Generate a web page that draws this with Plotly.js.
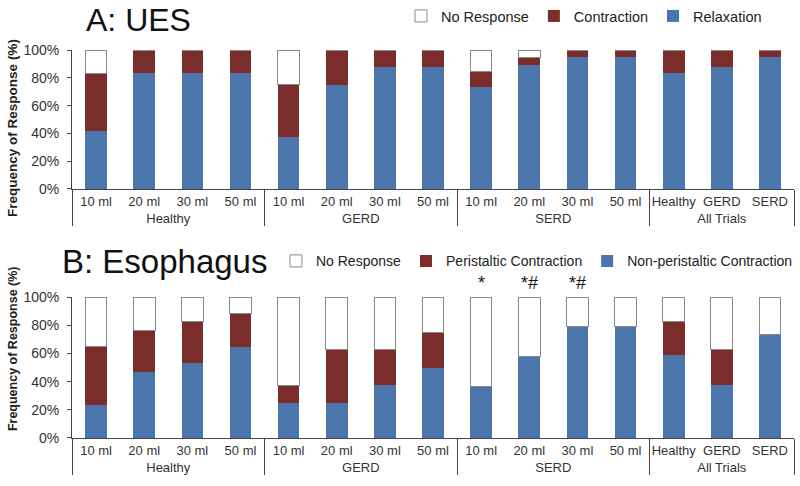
<!DOCTYPE html>
<html>
<head>
<meta charset="utf-8">
<script src="https://cdn.plot.ly/plotly-3.0.1.min.js"></script>
<style>html,body{margin:0;padding:0;background:#fff;}#chart{width:800px;height:486px;}</style>
</head>
<body>
<div id="chart"></div>
<script>
// Category levels
var groups = ['Healthy','Healthy','Healthy','Healthy','GERD','GERD','GERD','GERD','SERD','SERD','SERD','SERD','All Trials','All Trials','All Trials'];
var subs = ['10 ml','20 ml','30 ml','50 ml','10 ml','20 ml','30 ml','50 ml','10 ml','20 ml','30 ml','50 ml','Healthy','GERD','SERD'];

// Y tick values / labels
var yTickVals = [0, 20, 40, 60, 80, 100];
var yTickText = ['0%', '20%', '40%', '60%', '80%', '100%'];

// Panel A: UES (%)
var uesRelaxation  = [41.7, 83.3, 83.3, 83.3, 37.5, 75.0, 87.5, 87.5, 73.7, 89.5, 94.7, 94.7, 83.3, 87.5, 94.7];
var uesContraction = [41.6, 16.7, 16.7, 16.7, 37.5, 25.0, 12.5, 12.5, 10.5,  5.2,  5.3,  5.3, 16.7, 12.5,  5.3];
var uesNoResponse  = [16.7,  0,    0,    0,   25.0,  0,    0,    0,   15.8,  5.3,  0,    0,    0,    0,    0  ];

// Panel B: Esophagus (%)
var esoNonPeristaltic = [23.5, 47.1, 52.9, 64.7, 25.0, 25.0, 37.5, 50.0, 36.8, 57.9, 78.9, 78.9, 58.6, 37.5, 73.7];
var esoPeristaltic    = [41.2, 29.4, 29.5, 23.5, 12.5, 37.5, 25.0, 25.0,  0,    0,    0,    0,   23.9, 25.0,  0  ];
var esoNoResponse     = [35.3, 23.5, 17.6, 11.8, 62.5, 37.5, 37.5, 25.0, 63.2, 42.1, 21.1, 21.1, 17.5, 37.5, 26.3];

// Significance markers (Panel B)
var sigIndex = [8, 9, 10];
var sigText = ['*', '*#', '*#'];

var BLUE = '#4a76ab', RED = '#7b2d2b', WHITE = '#ffffff', EDGE = '#8a8a8a';
var FONT = 'Liberation Sans, Arial, sans-serif';
var xcat = [groups, subs];

function bar(y, name, color, xa, ya, lg, outline) {
  return {
    type: 'bar', x: xcat, y: y, name: name, xaxis: xa, yaxis: ya, legend: lg,
    marker: {color: color, line: {color: outline ? EDGE : color, width: outline ? 1 : 0}},
    hoverinfo: 'skip'
  };
}

var data = [
  bar(uesRelaxation, 'Relaxation', BLUE, 'x', 'y', 'legend', false),
  bar(uesContraction, 'Contraction', RED, 'x', 'y', 'legend', false),
  bar(uesNoResponse, 'No Response', WHITE, 'x', 'y', 'legend', true),
  bar(esoNonPeristaltic, 'Non-peristaltic Contraction', BLUE, 'x2', 'y2', 'legend2', false),
  bar(esoPeristaltic, 'Peristaltic Contraction', RED, 'x2', 'y2', 'legend2', false),
  bar(esoNoResponse, 'No Response', WHITE, 'x2', 'y2', 'legend2', true)
];

var xaxisBase = {
  type: 'multicategory', showline: true, linecolor: '#444', linewidth: 1, tickangle: 0,
  ticks: '', showdividers: true, dividercolor: '#444', dividerwidth: 1,
  tickfont: {family: FONT, size: 13, color: '#333'}, showgrid: false, zeroline: false,
  range: [-0.5, 14.5]
};
var yaxisBase = {
  range: [0, 100], tickmode: 'array', tickvals: yTickVals, ticktext: yTickText,
  showline: true, linecolor: '#444', linewidth: 1, ticks: 'outside', ticklen: 4, tickcolor: '#444',
  ticklabelstandoff: 5,
  tickfont: {family: FONT, size: 14, color: '#333'}, showgrid: false, zeroline: false
};

var annotations = [
  {text: 'A: UES', xref: 'paper', yref: 'paper', x: 0.017, y: 0.954, xanchor: 'left', yanchor: 'middle',
   showarrow: false, font: {family: FONT, size: 32, color: '#111'}},
  {text: 'B: Esophagus', xref: 'paper', yref: 'paper', x: -0.017, y: 0.404, xanchor: 'left', yanchor: 'middle',
   showarrow: false, font: {family: FONT, size: 33, color: '#111'}},
  {text: '<b>Frequency of Response (%)</b>', xref: 'paper', yref: 'paper', x: -0.0817, y: 0.708, textangle: -90,
   xanchor: 'center', yanchor: 'middle', showarrow: false, font: {family: FONT, size: 13.5, color: '#222'}},
  {text: '<b>Frequency of Response (%)</b>', xref: 'paper', yref: 'paper', x: -0.0817, y: 0.203, textangle: -90,
   xanchor: 'center', yanchor: 'middle', showarrow: false, font: {family: FONT, size: 12.5, color: '#222'}}
];
for (var i = 0; i < sigIndex.length; i++) {
  annotations.push({text: sigText[i], xref: 'x2', yref: 'y2', x: sigIndex[i], y: 100, yanchor: 'bottom',
    yshift: 2, showarrow: false, font: {family: FONT, size: 18, color: '#111'}});
}

var layout = {
  width: 800, height: 486,
  margin: {l: 72, r: 6, t: 0, b: 48, autoexpand: false},
  paper_bgcolor: '#fff', plot_bgcolor: '#fff',
  barmode: 'stack', bargap: 0.55,
  font: {family: FONT},
  showlegend: true,
  xaxis: Object.assign({}, xaxisBase, {anchor: 'y'}),
  yaxis: Object.assign({}, yaxisBase, {domain: [0.5685, 0.8858], anchor: 'x'}),
  xaxis2: Object.assign({}, xaxisBase, {anchor: 'y2'}),
  yaxis2: Object.assign({}, yaxisBase, {domain: [0, 0.3219], anchor: 'x2'}),
  legend: {orientation: 'h', traceorder: 'reversed', x: 0.9626, y: 1.0, xanchor: 'right', yanchor: 'top',
    font: {family: FONT, size: 14.5, color: '#222'}, itemwidth: 30, bgcolor: 'rgba(0,0,0,0)'},
  legend2: {orientation: 'h', traceorder: 'reversed', x: 0.2825, y: 0.44, xanchor: 'left', yanchor: 'top',
    font: {family: FONT, size: 14, color: '#222'}, itemwidth: 30, bgcolor: 'rgba(0,0,0,0)'},
  annotations: annotations
};

Plotly.newPlot('chart', data, layout, {displayModeBar: false, staticPlot: true});
</script>
</body>
</html>
